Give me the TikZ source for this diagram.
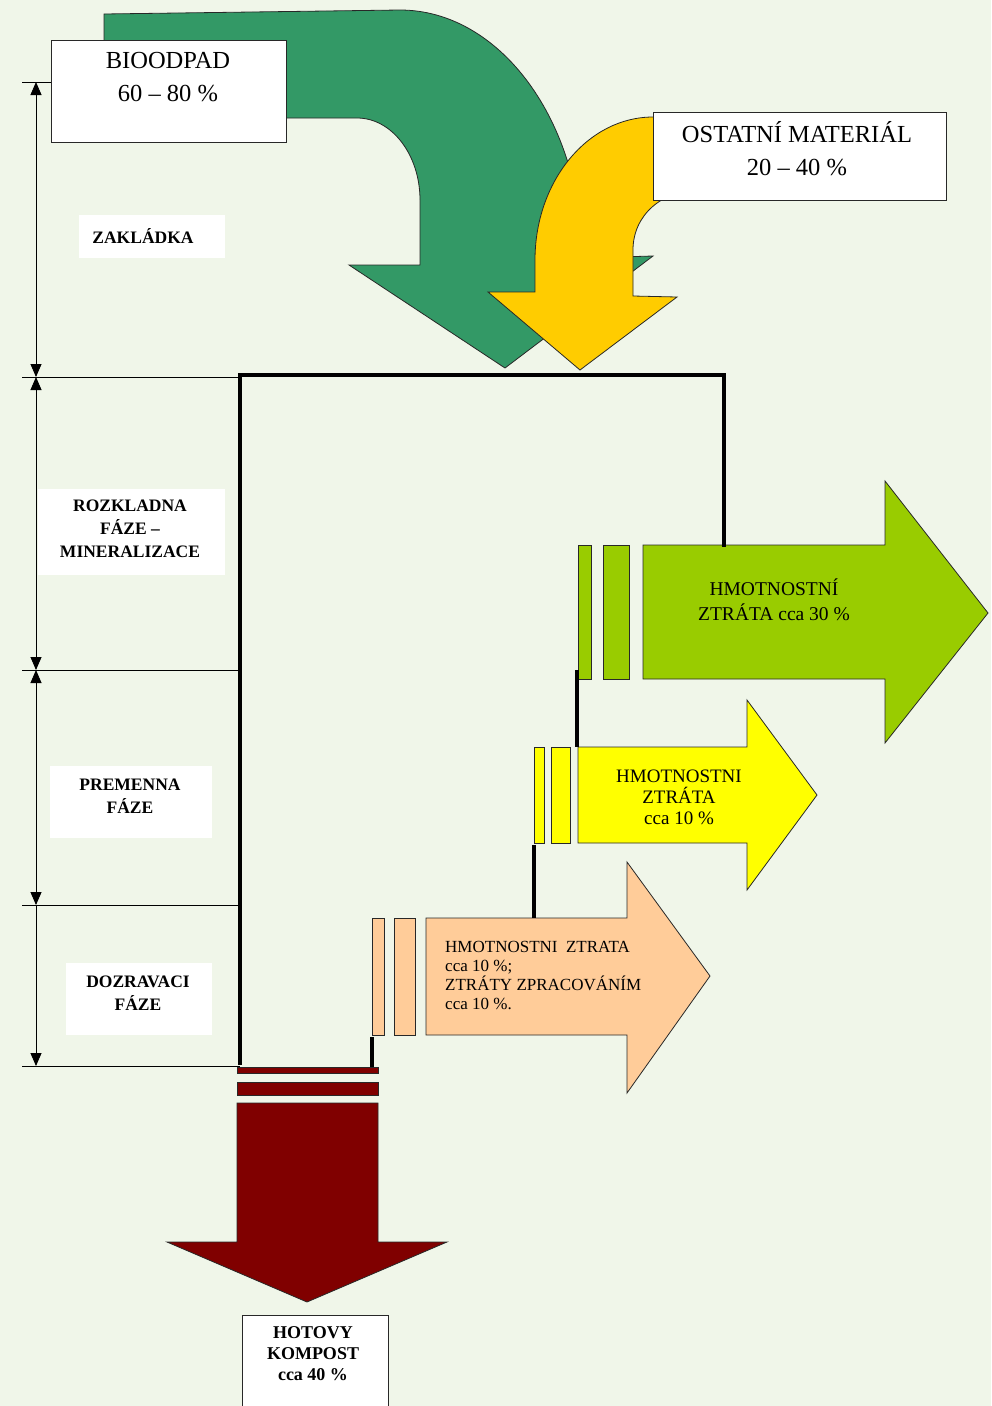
\documentclass[tikz,border=0pt]{standalone}
\usepackage{fontspec}
\setmainfont{Liberation Serif}
\usetikzlibrary{arrows.meta}
\definecolor{bg}{RGB}{240,246,233}
\definecolor{curvegreen}{RGB}{51,153,102}
\definecolor{curveyellow}{RGB}{255,204,0}
\definecolor{lossgreen}{RGB}{153,204,0}
\definecolor{lossyellow}{RGB}{255,255,0}
\definecolor{losspeach}{RGB}{255,204,153}
\definecolor{compost}{RGB}{128,0,0}
\definecolor{edge}{RGB}{40,40,40}
\tikzset{
  dimtip/.tip={Triangle[width=11pt,length=13pt]},
  flow/.style={draw=edge, line width=0.8pt, line join=miter},
  titlebox/.style={draw=edge, fill=white, line width=0.9pt, inner sep=0pt},
  labelbox/.style={fill=white, inner sep=0pt},
  frameline/.style={line width=4pt, black, line join=miter, line cap=rect},
  link/.style={line width=4pt, black},
  dimline/.style={line width=0.9pt, black},
  phase/.style={font=\bfseries\fontsize{17.5}{23}\selectfont, align=center, inner sep=0pt},
  title/.style={font=\fontsize{24.5}{33}\selectfont, align=center, inner sep=0pt},
  losstext/.style={font=\fontsize{19}{23}\selectfont, align=center, inner sep=0pt},
}
\begin{document}
\begin{tikzpicture}[x=1pt,y=-1pt]
\fill[bg] (0,0) rectangle (991,1406);
\useasboundingbox (0,0) rectangle (991,1406);

% curved input arrows
\filldraw[flow, fill=curvegreen] (104,14) -- (400,10) .. controls (500.5,10) and (582,122) .. (582,258)
  -- (653,256) -- (505,368) -- (349,265) -- (420,265) -- (420,200)
  .. controls (420,155) and (392,118) .. (357,118) -- (104,118) -- cycle;
\filldraw[flow, fill=curveyellow] (700,117) -- (653,117) .. controls (588,117) and (535,181) .. (535,260)
  -- (535,292) -- (488,292) -- (580,370) -- (677,297) -- (633,296) -- (633,250)
  .. controls (633,215) and (662,190) .. (700,190) -- cycle;

% title boxes
\node[titlebox, minimum width=235pt, minimum height=102pt] (biobox) at (168.5,91) {};
\node[title] (biotext) at (168,77) {BIOODPAD\\60 – 80 \%};
\node[titlebox, minimum width=293pt, minimum height=88pt] (ostbox) at (799.5,156) {};
\node[title] (osttext) at (797,149) {OSTATNÍ MATERIÁL\\20 – 40 \%};

% phase labels
\node[labelbox, minimum width=146pt, minimum height=43pt] (zakbox) at (152,236.5) {};
\node[phase] (zak) at (143,236) {ZAKLÁDKA};
\node[labelbox, minimum width=187pt, minimum height=86pt] (rozbox) at (131.5,532) {};
\node[phase] (roz) at (130,529) {ROZKLADNA\\FÁZE –\\MINERALIZACE};
\node[labelbox, minimum width=162pt, minimum height=72pt] (prebox) at (131,802) {};
\node[phase] (pre) at (130,796) {PREMENNA\\FÁZE};
\node[labelbox, minimum width=146pt, minimum height=72pt] (dozbox) at (139,999) {};
\node[phase] (doz) at (138,993) {DOZRAVACI\\FÁZE};

% dimension lines
\coordinate (d0) at (36,82);
\coordinate (d1) at (36,377);
\coordinate (d2) at (36,670);
\coordinate (d3) at (36,905);
\coordinate (d4) at (36,1066);
\coordinate (e0) at (22,82);
\coordinate (e1) at (22,377);
\coordinate (e2) at (22,670);
\coordinate (e3) at (22,905);
\coordinate (e4) at (22,1066);
\coordinate (f1) at (240,377);
\coordinate (f2) at (240,670);
\coordinate (f3) at (240,905);
\coordinate (f4) at (240,1066);
\draw[dimline] (e0) -- (biobox.west |- e0);
\draw[dimline] (e1) -- (f1);
\draw[dimline] (e2) -- (f2);
\draw[dimline] (e3) -- (f3);
\draw[dimline] (e4) -- (f4);
\draw[dimline, dimtip-dimtip] (d0) -- (d1);
\draw[dimline, dimtip-dimtip] (d1) -- (d2);
\draw[dimline, dimtip-dimtip] (d2) -- (d3);
\draw[dimline, -dimtip] (d3) -- (d4);

% loss arrows
\filldraw[flow, fill=lossgreen] (578,545) rectangle (591,679);
\filldraw[flow, fill=lossgreen] (603,545) rectangle (629,679);
\filldraw[flow, fill=lossgreen] (643,545) -- (885,545) -- (885,481) -- (988,613) -- (885,743) -- (885,679) -- (643,679) -- cycle;
\node[losstext, font=\fontsize{19.5}{25}\selectfont] (gtext) at (774,600) {HMOTNOSTNÍ\\ZTRÁTA cca 30 \%};

\filldraw[flow, fill=lossyellow] (534,747) rectangle (544,843);
\filldraw[flow, fill=lossyellow] (551,747) rectangle (570,843);
\filldraw[flow, fill=lossyellow] (578,747) -- (747,747) -- (747,700) -- (817,795) -- (747,890) -- (747,843) -- (578,843) -- cycle;
\node[losstext, font=\fontsize{19}{21}\selectfont] (ytext) at (679,797) {HMOTNOSTNI\\ZTRÁTA\\cca 10 \%};

\filldraw[flow, fill=losspeach] (372,918) rectangle (384,1035);
\filldraw[flow, fill=losspeach] (394,918) rectangle (415,1035);
\filldraw[flow, fill=losspeach] (426,918) -- (627,918) -- (627,862) -- (710,976) -- (627,1093) -- (627,1035) -- (426,1035) -- cycle;
\node[inner sep=0pt, align=left, anchor=north west, font=\fontsize{17}{19}\selectfont] (ptext) at (445,941)
  {HMOTNOSTNI\ \ ZTRATA\\cca 10 \%;\\ZTRÁTY ZPRACOVÁNÍM\\cca 10 \%.};

% compost arrow
\filldraw[flow, fill=compost] (237,1067) rectangle (378,1073);
\filldraw[flow, fill=compost] (237,1082) rectangle (378,1095);
\filldraw[flow, fill=compost] (237,1103) -- (378,1103) -- (378,1242) -- (447,1242) -- (307,1302) -- (167,1242) -- (237,1242) -- cycle;
\node[titlebox, minimum width=146pt, minimum height=110pt] (hotbox) at (315,1370) {};
\node[phase, font=\bfseries\fontsize{18}{21}\selectfont] (hot) at (313,1354) {HOTOVY\\KOMPOST\\cca 40 \%};

% frame and connectors
\coordinate (fb) at (240,1063);
\coordinate (ftl) at (240,375);
\coordinate (ftr) at (724,375);
\coordinate (gtop) at (724,545);
\draw[frameline] (fb) -- (ftl) -- (ftr) -- (gtop);
\coordinate (g1) at (577,670);
\coordinate (y1) at (577,747);
\draw[link] (g1) -- (y1);
\coordinate (y2) at (534,845);
\coordinate (p1) at (534,918);
\draw[link] (y2) -- (p1);
\coordinate (p2) at (372,1037);
\coordinate (c1) at (372,1067);
\draw[link] (p2) -- (c1);
\end{tikzpicture}
\end{document}
